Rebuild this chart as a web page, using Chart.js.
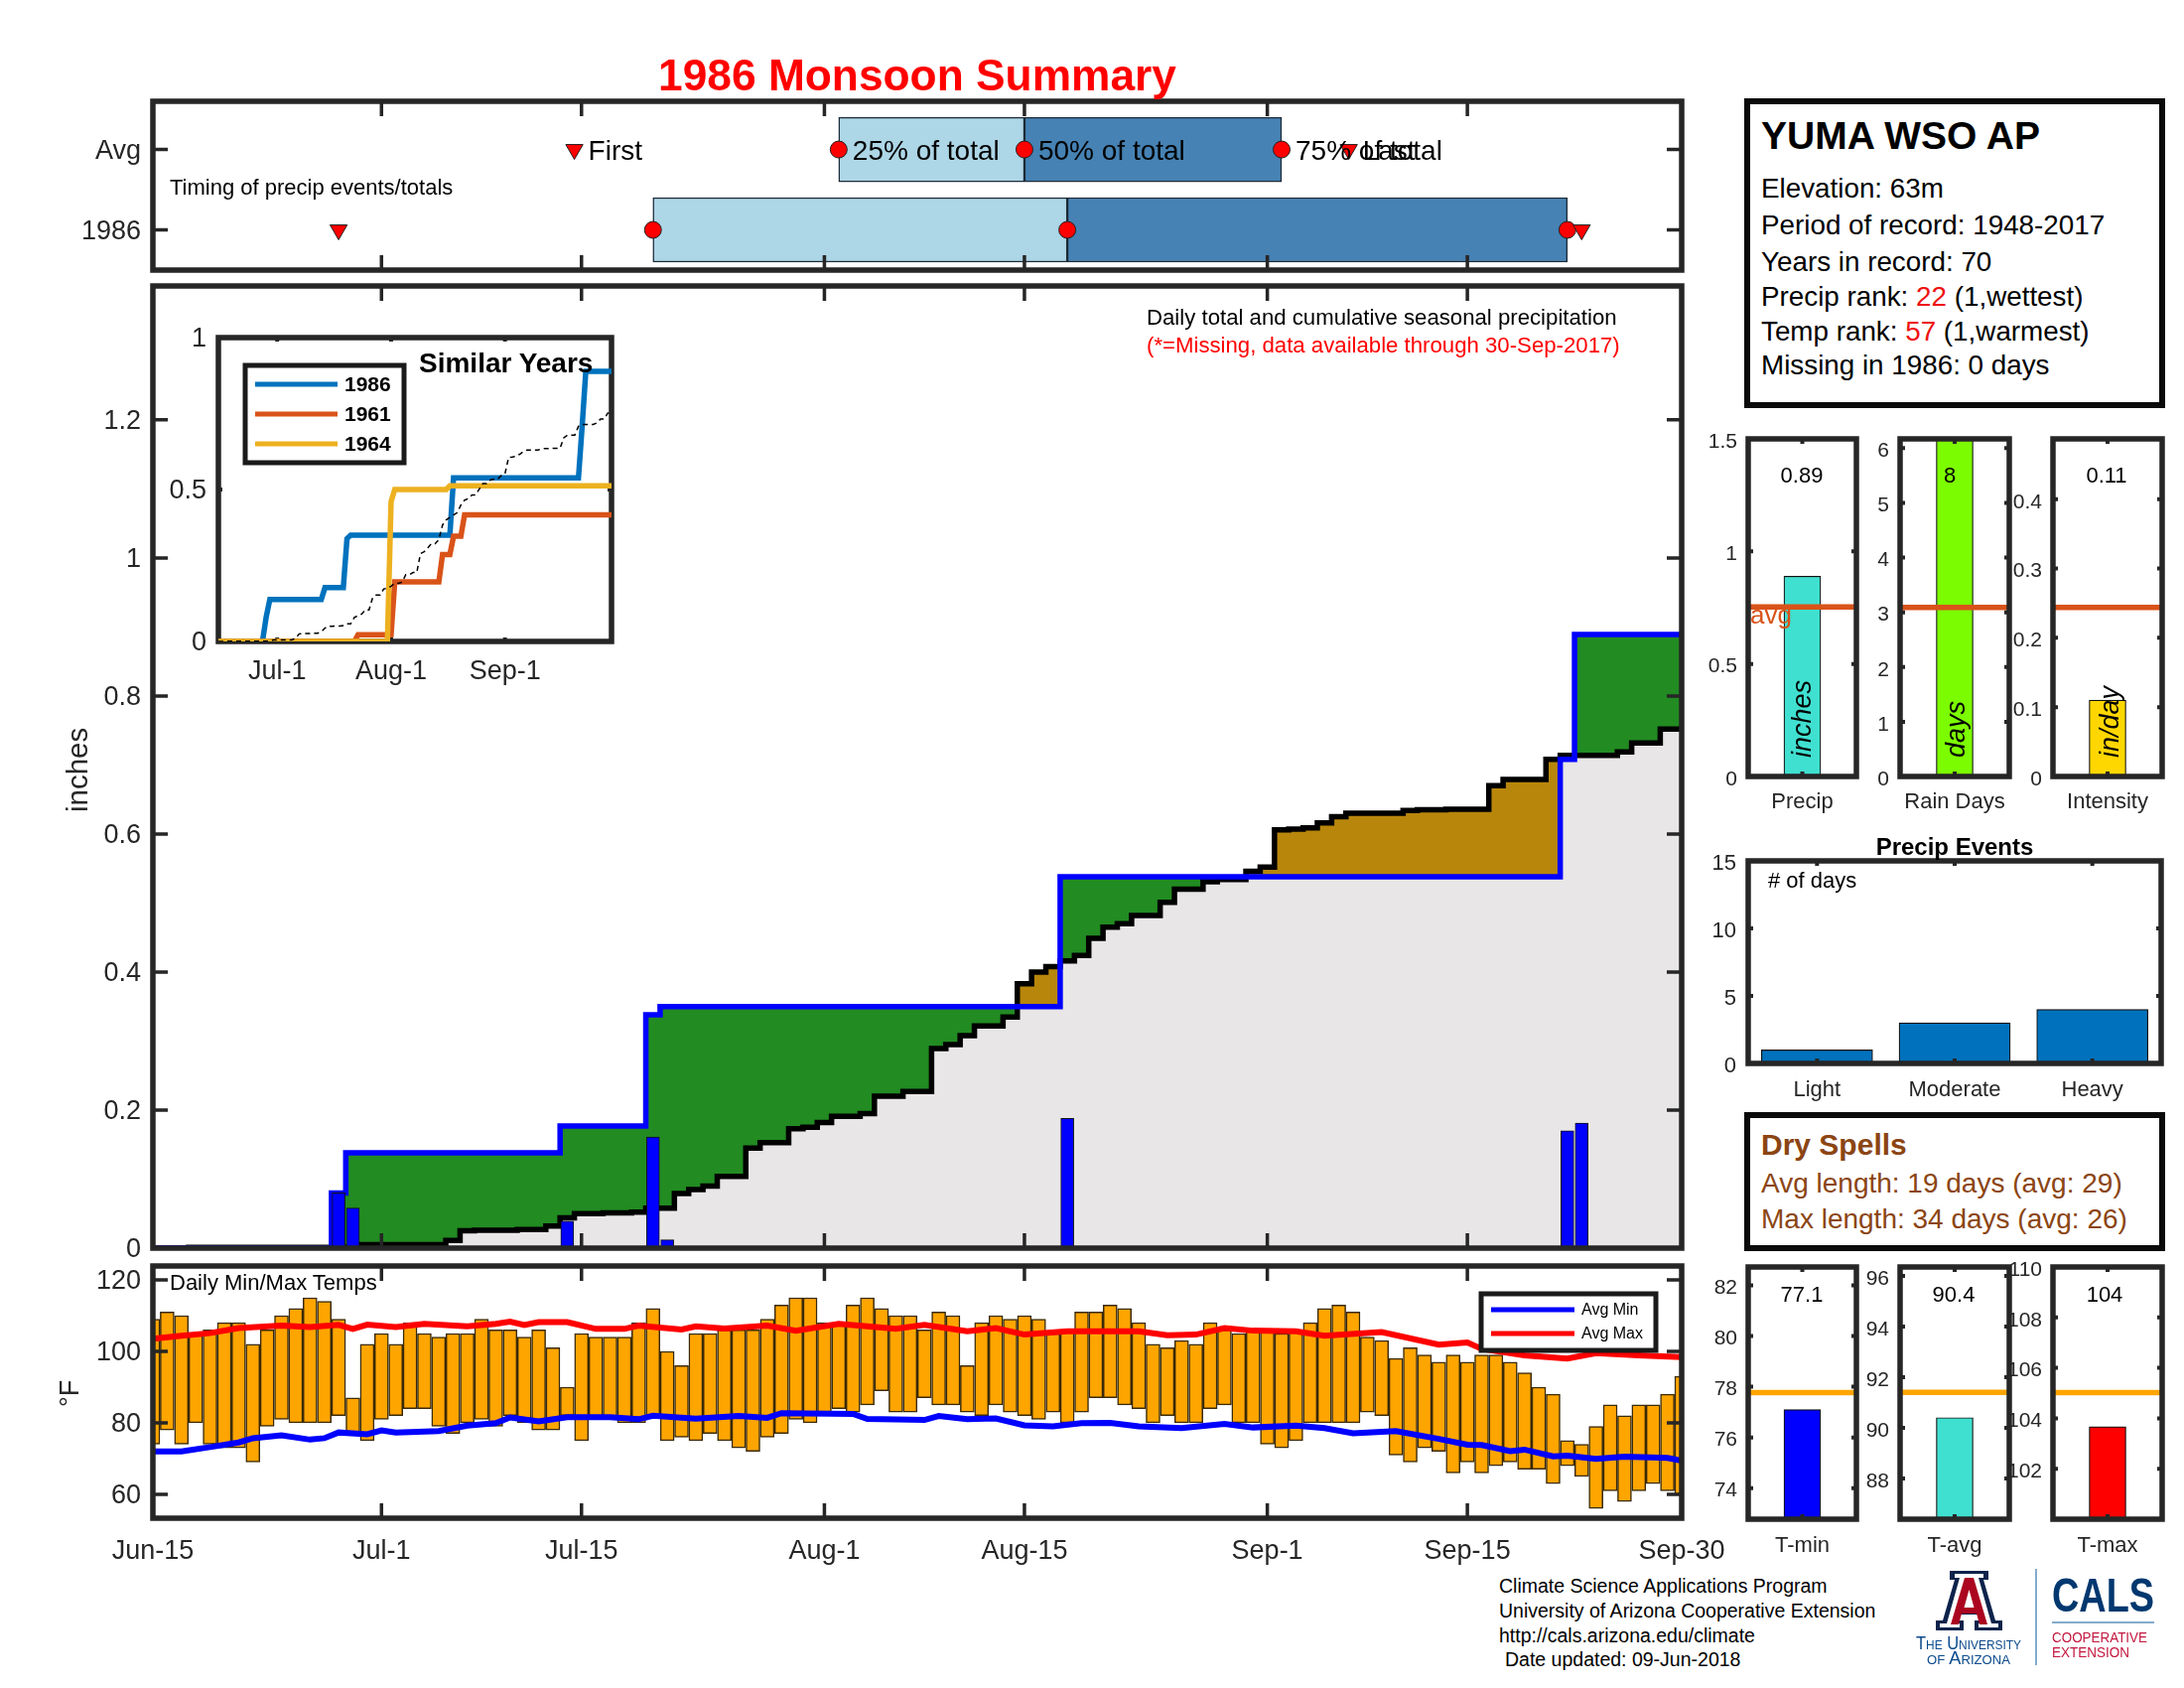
<!DOCTYPE html>
<html>
<head>
<meta charset="utf-8">
<title>1986 Monsoon Summary</title>
<script src="https://cdn.jsdelivr.net/npm/chart.js@4"></script>
<style>
html, body { margin: 0; padding: 0; background: #fff; overflow: hidden; }
body { width: 2200px; height: 1700px; position: relative; font-family: "Liberation Sans", Arial, sans-serif; }
canvas { position: absolute; }
.txt { position: absolute; white-space: pre; }
.box { position: absolute; box-sizing: border-box; border: 6px solid #0a0a0a; background: #fff; }
svg { position: absolute; left: 0; top: 0; }
</style>
</head>
<body>
<script>
// --- date axis, days counted from Jun-15 ---
const dateTicks = [0, 16, 30, 47, 61, 78, 92, 107];
const dateLabels = ['Jun-15', 'Jul-1', 'Jul-15', 'Aug-1', 'Aug-15', 'Sep-1', 'Sep-15', 'Sep-30'];

// --- daily precip ---
const rainDays = [13, 14, 29, 35, 36, 64, 99, 100];
const rainAmounts = [0.08, 0.058, 0.039, 0.161, 0.012, 0.188, 0.17, 0.181];

const obsCum = [
  0, 0, 0, 0, 0, 0, 0, 0, 0, 0, 0, 0, 0, 0.08, 0.138, 0.138, 0.138, 0.138,
  0.138, 0.138, 0.138, 0.138, 0.138, 0.138, 0.138, 0.138, 0.138, 0.138, 0.138, 0.177, 0.177, 0.177, 0.177, 0.177,
  0.177, 0.338, 0.35, 0.35, 0.35, 0.35, 0.35, 0.35, 0.35, 0.35, 0.35, 0.35, 0.35, 0.35, 0.35, 0.35, 0.35, 0.35,
  0.35, 0.35, 0.35, 0.35, 0.35, 0.35, 0.35, 0.35, 0.35, 0.35, 0.35, 0.35, 0.538, 0.538, 0.538, 0.538, 0.538, 0.538, 0.538, 0.538,
  0.538, 0.538, 0.538, 0.538, 0.538, 0.538, 0.538, 0.538, 0.538, 0.538, 0.538, 0.538, 0.538, 0.538, 0.538, 0.538, 0.538, 0.538,
  0.538, 0.538, 0.538, 0.538, 0.538, 0.538, 0.538, 0.538, 0.538, 0.708, 0.889, 0.889, 0.889, 0.889, 0.889, 0.889, 0.889, 0.889
];
const avgCum = [
  0, 0, 0, 0.001, 0.001, 0.001, 0.001, 0.001, 0.001, 0.001, 0.001, 0.001, 0.001, 0.001, 0.001, 0.005, 0.005, 0.005,
  0.005, 0.005, 0.005, 0.011, 0.025, 0.026, 0.026, 0.026, 0.027, 0.027, 0.032, 0.044, 0.05, 0.05, 0.051, 0.051,
  0.052, 0.058, 0.058, 0.079, 0.085, 0.09, 0.104, 0.104, 0.145, 0.153, 0.153, 0.173, 0.175, 0.182, 0.191, 0.191, 0.195, 0.22,
  0.22, 0.227, 0.227, 0.289, 0.295, 0.308, 0.322, 0.322, 0.335, 0.383, 0.4, 0.408, 0.416, 0.424, 0.449, 0.465, 0.47, 0.482, 0.482, 0.501,
  0.52, 0.52, 0.531, 0.534, 0.534, 0.546, 0.552, 0.606, 0.607, 0.609, 0.616, 0.625, 0.63, 0.63, 0.63, 0.63, 0.634, 0.635,
  0.635, 0.636, 0.636, 0.636, 0.67, 0.679, 0.679, 0.679, 0.708, 0.714, 0.714, 0.714, 0.714, 0.719, 0.732, 0.732, 0.752, 0.752
];

// --- similar years inset ---
const days1961 = [0, 37, 38, 47, 48, 60, 61, 63, 64, 66, 67, 107];
const vals1961 = [0, 0, 0.022, 0.022, 0.196, 0.196, 0.286, 0.286, 0.346, 0.346, 0.417, 0.417];
const days1964 = [0, 46, 47, 48, 62, 63, 107];
const vals1964 = [0, 0, 0.46, 0.5, 0.5, 0.512, 0.512];
const insetTicks = [16, 47, 78];
const insetLabels = ['Jul-1', 'Aug-1', 'Sep-1'];

// --- timing strip ---
const timingNames = ['First', '25% of total', '50% of total', '75% of total', 'Last'];
const timingAvg = [29.5, 48, 61, 79, 83.7];
const timing1986 = [13, 35, 64, 99, 100];

// --- daily temps ---
const tempHigh = [
  109, 111, 110, 105, 106, 108, 108, 102, 106, 110,
  112, 115, 114, 109, 87, 102, 105, 102, 108, 105,
  104, 105, 105, 109, 106, 106, 104, 106, 101, 90,
  105, 104, 104, 104, 108, 112, 100, 96, 105, 105,
  106, 106, 106, 109, 113, 115, 115, 108, 108, 113,
  115, 112, 110, 110, 106, 111, 110, 96, 108, 110,
  109, 110, 109, 105, 106, 111, 111, 113, 112, 108,
  102, 101, 103, 102, 108, 106, 105, 106, 106, 105,
  106, 108, 112, 113, 111, 104, 103, 98, 101, 99,
  97, 99, 97, 99, 99, 97, 94, 90, 88, 75,
  74, 79, 85, 82, 85, 85, 88, 93
];
const tempLow = [
  74, 78, 74, 80, 74, 73, 73, 69, 79, 81,
  80, 80, 80, 82, 77, 75, 81, 82, 84, 84,
  79, 77, 80, 81, 79, 82, 80, 78, 78, 82,
  75, 81, 81, 80, 80, 82, 75, 76, 75, 77,
  75, 73, 72, 76, 77, 81, 80, 83, 84, 83,
  85, 89, 83, 83, 87, 85, 85, 83, 82, 85,
  83, 82, 81, 83, 80, 83, 87, 87, 85, 84,
  80, 82, 80, 80, 84, 85, 80, 80, 74, 73,
  75, 80, 80, 80, 80, 83, 82, 71, 69, 73,
  72, 66, 69, 66, 68, 69, 67, 67, 63, 68,
  65, 56, 61, 58, 61, 63, 61, 60
];
const avgMaxDays = [0, 2, 4, 6, 9, 11, 13, 14, 15, 17, 19, 22, 24, 25, 26, 27, 29, 31, 33, 34, 37, 38, 40, 43, 45, 48, 52, 54, 57, 59, 61, 64, 69, 71, 73, 75, 77, 80, 82, 86, 90, 92, 93, 96, 99, 101, 104, 107];
const avgMaxVals = [103.5, 104.4, 105.1, 106.5, 107.2, 106.8, 107.4, 106.3, 107.5, 106.8, 107.7, 107, 107.7, 108.3, 107.4, 108.2, 108.2, 106.3, 106.3, 107.2, 106.1, 107, 106.4, 107.2, 105.8, 107.7, 106.3, 107.4, 105.6, 106.5, 104.7, 105.6, 105.6, 104.5, 104.7, 106.5, 105.8, 105.6, 104.4, 105.4, 101.9, 102.5, 100.7, 98.9, 98, 99.5, 98.9, 98.4];
const avgMinDays = [0, 2, 4, 6, 7, 9, 11, 12, 13, 15, 16, 17, 20, 22, 24, 25, 27, 29, 32, 34, 35, 38, 41, 43, 44, 49, 50, 54, 55, 57, 59, 61, 63, 65, 67, 69, 72, 75, 77, 80, 82, 84, 87, 90, 92, 93, 95, 96, 98, 99, 101, 103, 106, 107];
const avgMinVals = [72, 72, 73.2, 74.5, 75.7, 76.5, 75.3, 75.7, 77.3, 76.8, 77.9, 77.3, 77.7, 79.2, 79.9, 81.5, 80.4, 81.6, 81.6, 81, 82, 81.2, 81.9, 81.4, 82.7, 82.5, 81.1, 80.8, 81.9, 81, 81.2, 79.3, 79, 79.9, 80, 79, 78.5, 79.7, 78.7, 79.2, 78.5, 77.1, 77.7, 75.5, 73.9, 73.8, 72.1, 72.5, 70.6, 70.8, 69.9, 70.5, 70.2, 69.4];

// --- summary bars: value, long-term average ---
const precipTotal = 0.89, precipAvg = 0.753;
const rainDayCount = 8, rainDayAvg = 3.09;
const intensity = 0.11, intensityAvg = 0.244;
const eventNames = ['Light', 'Moderate', 'Heavy'];
const eventCounts = [1, 3, 4];
const tMin = 77.1, tMinAvg = 77.77;
const tAvg = 90.4, tAvgAvg = 91.4;
const tMax = 103.67, tMaxAvg = 105.02;

const INK = '#262626';
const FONT = '"Liberation Sans", Arial, sans-serif';

// ---- drawing helpers ----
function drawFrame(chart, o) {
  const { ctx, chartArea: a, scales: { x, y } } = chart;
  ctx.save();
  ctx.strokeStyle = INK;
  ctx.lineWidth = o.tickWidth;
  ctx.beginPath();
  x.ticks.forEach((t, i) => {
    const p = x.getPixelForTick(i);
    if (p <= a.left + 1 || p >= a.right - 1) return;
    ctx.moveTo(p, a.top); ctx.lineTo(p, a.top + o.tickLen);
    ctx.moveTo(p, a.bottom); ctx.lineTo(p, a.bottom - o.tickLen);
  });
  y.ticks.forEach((t, i) => {
    const p = y.getPixelForTick(i);
    if (p <= a.top + 1 || p >= a.bottom - 1) return;
    ctx.moveTo(a.left, p); ctx.lineTo(a.left + o.tickLen, p);
    ctx.moveTo(a.right, p); ctx.lineTo(a.right - o.tickLen, p);
  });
  ctx.stroke();
  ctx.lineWidth = o.width;
  ctx.strokeRect(a.left, a.top, a.right - a.left, a.bottom - a.top);
  ctx.restore();
}

const framePlugin = {
  id: 'frame',
  beforeDatasetsDraw(chart, args, o) { if (o.under) drawFrame(chart, o); },
  afterDatasetsDraw(chart, args, o) { if (!o.under) drawFrame(chart, o); }
};

// text tied to data values, and the small boxed legends
const notesPlugin = {
  id: 'notes',
  afterDraw(chart, args, o) {
    const { ctx, chartArea: a, scales: { x, y } } = chart;
    ctx.save();
    (o.items || []).forEach(n => {
      ctx.font = n.font;
      ctx.fillStyle = n.color || '#000';
      ctx.textBaseline = 'middle';
      ctx.fillText(n.text, x.getPixelForValue(n.x) + (n.dx || 0), y.getPixelForValue(n.y) + (n.dy || 0));
    });
    if (o.legend) {
      const l = o.legend;
      ctx.fillStyle = '#fff';
      ctx.fillRect(a.left + l.x, a.top + l.y, l.w, l.h);
      ctx.strokeStyle = '#1a1a1a';
      ctx.lineWidth = l.border;
      ctx.strokeRect(a.left + l.x, a.top + l.y, l.w, l.h);
      l.entries.forEach((e, i) => {
        const ds = chart.data.datasets[e];
        const yy = a.top + l.rowY[i];
        ctx.strokeStyle = ds.borderColor;
        ctx.lineWidth = l.lineWidth;
        ctx.beginPath();
        ctx.moveTo(a.left + l.x + l.pad, yy);
        ctx.lineTo(a.left + l.x + l.pad + l.lineLen, yy);
        ctx.stroke();
        ctx.font = l.font;
        ctx.fillStyle = '#000';
        ctx.textBaseline = 'middle';
        ctx.fillText(ds.label, a.left + l.x + l.pad + l.lineLen + 7, yy + 1);
      });
    }
    ctx.restore();
  }
};

function axis(min, max, tickVals, labels, size, padding, labelOffset) {
  return {
    type: 'linear', min, max, offset: false,
    grid: { display: false, drawTicks: false, offset: false },
    border: { display: false },
    ticks: {
      autoSkip: false, maxRotation: 0, minRotation: 0,
      display: size > 0,
      color: INK, padding, labelOffset: labelOffset || 0,
      font: { family: FONT, size: size || 10 },
      callback: (v, i) => labels ? labels[i] : String(v)
    },
    afterBuildTicks: s => { s.ticks = tickVals.map(v => ({ value: v })); }
  };
}

function noPadding(s) {
  s.paddingTop = 0; s.paddingBottom = 0; s.paddingLeft = 0; s.paddingRight = 0;
}

function makeChart(rect, m, xAxis, yAxis, datasets, frame, notes) {
  const cv = document.createElement('canvas');
  const w = rect.x1 - rect.x0 + m.l + m.r;
  const h = rect.y1 - rect.y0 + m.t + m.b;
  cv.width = w; cv.height = h;
  cv.style.left = (rect.x0 - m.l) + 'px';
  cv.style.top = (rect.y0 - m.t) + 'px';
  cv.style.width = w + 'px';
  cv.style.height = h + 'px';
  document.body.appendChild(cv);
  xAxis.afterFit = s => { s.height = m.b; noPadding(s); };
  yAxis.afterFit = s => { s.width = m.l; noPadding(s); };
  return new Chart(cv.getContext('2d'), {
    type: 'bar',
    data: { datasets },
    options: {
      responsive: false, animation: false, devicePixelRatio: 1, events: [],
      layout: { padding: { top: m.t, right: m.r, left: 0, bottom: 0 } },
      scales: { x: xAxis, y: yAxis },
      elements: { point: { radius: 0 } },
      plugins: {
        legend: { display: false }, tooltip: { enabled: false }, title: { display: false },
        frame, notes: notes || {}
      }
    },
    plugins: [framePlugin, notesPlugin]
  });
}

function put(text, x, baseline, size, o) {
  o = o || {};
  const d = document.createElement('div');
  d.className = 'txt';
  if (o.html) d.innerHTML = text; else d.textContent = text;
  d.style.left = x + 'px';
  d.style.top = (baseline - 0.8465 * size) + 'px';
  d.style.fontSize = size + 'px';
  d.style.lineHeight = size + 'px';
  d.style.color = o.color || '#000';
  if (o.bold) d.style.fontWeight = 'bold';
  if (o.center) d.style.transform = 'translateX(-50%)';
  document.body.appendChild(d);
}

function putUp(text, left, bottom, size, italic, color) {
  const d = document.createElement('div');
  d.className = 'txt';
  d.textContent = text;
  d.style.left = left + 'px';
  d.style.top = bottom + 'px';
  d.style.fontSize = size + 'px';
  d.style.lineHeight = size + 'px';
  d.style.color = color || '#000';
  if (italic) d.style.fontStyle = 'italic';
  d.style.transformOrigin = '0 0';
  d.style.transform = 'rotate(-90deg)';
  document.body.appendChild(d);
}

function pairs(xs, ys) { return xs.map((v, i) => ({ x: v, y: ys[i] })); }
function byDay(ys) { return ys.map((v, i) => ({ x: i, y: v })); }

// ---- timing strip ----
function timingBars(from, to, row, color) {
  return { type: 'bar', indexAxis: 'y', grouped: false, data: [{ x: [from, to], y: row }], backgroundColor: color, borderColor: '#1c2b38', borderWidth: 1.5, borderSkipped: false, barThickness: 65 };
}
function timingMarks(day, row, style) {
  return {
    type: 'scatter', data: [{ x: day, y: row }], showLine: false, backgroundColor: '#ff0000', borderColor: '#222',
    pointBackgroundColor: '#ff0000', pointBorderColor: '#222', pointBorderWidth: 1,
    pointRadius: style === 'circle' ? 8.5 : 10, pointStyle: style, pointRotation: style === 'circle' ? 0 : 180
  };
}
const timingSets = [];
[0, 4].forEach(i => {
  timingSets.push(timingMarks(timingAvg[i], 2, 'triangle'));
  timingSets.push(timingMarks(timing1986[i], 1, 'triangle'));
});
[1, 2, 3].forEach(i => {
  timingSets.push(timingMarks(timingAvg[i], 2, 'circle'));
  timingSets.push(timingMarks(timing1986[i], 1, 'circle'));
});
timingSets.push(timingBars(timingAvg[1], timingAvg[2], 2, '#ADD6E6'));
timingSets.push(timingBars(timingAvg[2], timingAvg[3], 2, '#4682B4'));
timingSets.push(timingBars(timing1986[1], timing1986[2], 1, '#ADD6E6'));
timingSets.push(timingBars(timing1986[2], timing1986[3], 1, '#4682B4'));

makeChart({ x0: 154, x1: 1694, y0: 102, y1: 272 }, { l: 154, r: 60, t: 20, b: 16 },
  axis(0, 107, dateTicks, null, 0, 0),
  axis(0.5, 2.6, [1, 2], ['1986', 'Avg'], 27, 12, 2),
  timingSets,
  { width: 5.5, tickLen: 15, tickWidth: 3.5 },
  { items: timingNames.map((t, i) => ({ x: timingAvg[i], y: 2, dx: 14, dy: 3, text: t, font: '28px ' + FONT })) }
);

// ---- main precip chart ----
makeChart({ x0: 154, x1: 1694, y0: 288, y1: 1257 }, { l: 154, r: 60, t: 8, b: 16 },
  axis(0, 107, dateTicks, null, 0, 0),
  axis(0, 1.394, [0, 0.2, 0.4, 0.6, 0.8, 1, 1.2], null, 27, 12, 2),
  [
    { type: 'bar', label: 'Daily', data: pairs(rainDays, rainAmounts), backgroundColor: '#0000ff', borderColor: '#111', borderWidth: 1, barThickness: 13, borderSkipped: false },
    { type: 'line', label: '1986', data: byDay(obsCum), stepped: 'middle', borderColor: '#0000ff', borderWidth: 5.5, fill: false, borderJoinStyle: 'miter' },
    { type: 'line', label: 'Avg', data: byDay(avgCum), stepped: 'middle', borderColor: '#000', borderWidth: 5.5, fill: false, borderJoinStyle: 'miter' },
    { type: 'line', label: 'diff', data: byDay(obsCum), stepped: 'middle', borderWidth: 0, borderColor: 'rgba(0,0,0,0)', fill: { target: 4, above: '#228B22', below: '#B8860B' } },
    { type: 'line', label: 'below', data: byDay(avgCum), stepped: 'middle', borderWidth: 0, borderColor: 'rgba(0,0,0,0)', backgroundColor: '#E8E6E6', fill: 'origin' }
  ],
  { width: 5.5, tickLen: 15, tickWidth: 3.5 }
);

// ---- similar years inset ----
makeChart({ x0: 220, x1: 616, y0: 340, y1: 646 }, { l: 60, r: 10, t: 14, b: 50 },
  axis(0, 107, insetTicks, insetLabels, 27, 14),
  axis(0, 1, [0, 0.5, 1], null, 27, 12, 2),
  [
    { type: 'line', label: 'Avg', data: byDay(avgCum), borderColor: '#000', borderWidth: 1.5, borderDash: [5, 4], fill: false },
    { type: 'line', label: '1964', data: pairs(days1964, vals1964), borderColor: '#EDB120', borderWidth: 5.5, fill: false },
    { type: 'line', label: '1961', data: pairs(days1961, vals1961), borderColor: '#D95319', borderWidth: 5.5, fill: false },
    { type: 'line', label: '1986', data: byDay(obsCum), borderColor: '#0072BD', borderWidth: 5.5, fill: false }
  ],
  { width: 5.5, tickLen: 4, tickWidth: 4, under: true },
  { legend: { x: 27, y: 28, w: 160, h: 98, border: 5, pad: 10, lineLen: 83, lineWidth: 5, font: 'bold 21px ' + FONT, entries: [3, 2, 1], rowY: [47, 77, 107] } }
);

// ---- daily temps ----
makeChart({ x0: 154, x1: 1694, y0: 1275, y1: 1529 }, { l: 154, r: 60, t: 6, b: 50 },
  axis(0, 107, dateTicks, dateLabels, 27, 17),
  axis(53.3, 123.9, [60, 80, 100, 120], null, 27, 12, 2),
  [
    { type: 'line', label: 'Avg Min', data: pairs(avgMinDays, avgMinVals), borderColor: '#0000ff', borderWidth: 6, fill: false },
    { type: 'line', label: 'Avg Max', data: pairs(avgMaxDays, avgMaxVals), borderColor: '#ff0000', borderWidth: 6, fill: false },
    { type: 'bar', label: 'Daily', data: tempHigh.map((v, i) => ({ x: i, y: [tempLow[i], v] })), backgroundColor: '#FFA500', borderColor: '#3a2a08', borderWidth: 1.5, borderSkipped: false, barThickness: 14 }
  ],
  { width: 5.5, tickLen: 15, tickWidth: 3.5 },
  { legend: { x: 1338, y: 28, w: 176, h: 57, border: 5, pad: 10, lineLen: 84, lineWidth: 5, font: '16px ' + FONT, entries: [0, 1], rowY: [44, 68] } }
);

// ---- small summary panels ----
const smallFrame = { width: 5.5, tickLen: 5, tickWidth: 4 };
const smallMargin = { l: 60, r: 8, t: 10, b: 40 };
function summaryBar(rect, name, yMin, yMax, yTicks, value, avg, fillColor, avgColor, catPad) {
  makeChart(rect, smallMargin,
    axis(0, 2, [1], [name], 22, catPad),
    axis(yMin, yMax, yTicks, null, 21, 11, 3),
    [
      { type: 'line', data: [{ x: 0, y: avg }, { x: 2, y: avg }], borderColor: avgColor, borderWidth: 5.5, fill: false },
      { type: 'bar', data: [{ x: 1, y: value }], backgroundColor: fillColor, borderColor: '#111', borderWidth: 1.2, barThickness: 37, borderSkipped: false }
    ],
    smallFrame
  );
}
summaryBar({ x0: 1761, x1: 1870, y0: 442, y1: 782 }, 'Precip', 0, 1.5, [0, 0.5, 1, 1.5], precipTotal, precipAvg, '#40E0D0', '#D95319', 13);
summaryBar({ x0: 1914, x1: 2024, y0: 442, y1: 782 }, 'Rain Days', 0, 6.17, [0, 1, 2, 3, 4, 5, 6], rainDayCount, rainDayAvg, '#7CFC00', '#D95319', 13);
summaryBar({ x0: 2068, x1: 2178, y0: 442, y1: 782 }, 'Intensity', 0, 0.487, [0, 0.1, 0.2, 0.3, 0.4], intensity, intensityAvg, '#FFD700', '#D95319', 13);
summaryBar({ x0: 1761, x1: 1870, y0: 1276, y1: 1530 }, 'T-min', 72.77, 82.73, [74, 76, 78, 80, 82], tMin, tMinAvg, '#0000ff', '#FFA500', 14);
summaryBar({ x0: 1914, x1: 2024, y0: 1276, y1: 1530 }, 'T-avg', 86.39, 96.35, [88, 90, 92, 94, 96], tAvg, tAvgAvg, '#40E0D0', '#FFA500', 14);
summaryBar({ x0: 2068, x1: 2178, y0: 1276, y1: 1530 }, 'T-max', 100, 110, [102, 104, 106, 108, 110], tMax, tMaxAvg, '#ff0000', '#FFA500', 14);

// ---- precip events ----
makeChart({ x0: 1761, x1: 2177, y0: 867, y1: 1071 }, smallMargin,
  axis(0.5, 3.5, [1, 2, 3], eventNames, 22, 14),
  axis(0, 15, [0, 5, 10, 15], null, 22, 12, 3),
  [{ type: 'bar', data: eventCounts.map((v, i) => ({ x: i + 1, y: v })), backgroundColor: '#0072BD', borderColor: '#111', borderWidth: 1.2, barThickness: 112, borderSkipped: false }],
  smallFrame
);

// ---- page text ----
put('1986 Monsoon Summary', 924, 91, 44.3, { bold: true, color: '#ff0000', center: true });
put('Timing of precip events/totals', 171, 197, 22);
put('Daily total and cumulative seasonal precipitation', 1155, 328, 22.2);
put('(*=Missing, data available through 30-Sep-2017)', 1155, 356, 22.2, { color: '#ff0000' });
put('Similar Years', 422, 376, 28, { bold: true });
put('Daily Min/Max Temps', 171, 1300, 22);
putUp('inches', 63, 818, 29.5, false, INK);
putUp('°F', 57, 1417, 27, false, INK);

put(precipTotal.toFixed(2), 1815, 487, 22, { center: true });
put(String(rainDayCount), 1964, 487, 22, { center: true });
put(intensity.toFixed(2), 2122, 487, 22, { center: true });
put('avg', 1763, 628, 26, { color: '#D95319' });
putUp('inches', 1802, 763, 27, true);
putUp('days', 1957, 763, 27, true);
putUp('in/day', 2112, 763, 27, true);

put('Precip Events', 1969, 861, 24, { bold: true, center: true });
put('# of days', 1781, 895, 22);

put(tMin.toFixed(1), 1815, 1312, 22, { center: true });
put(tAvg.toFixed(1), 1968, 1312, 22, { center: true });
put(tMax.toFixed(0), 2120, 1312, 22, { center: true });

function addBox(x0, y0, x1, y1) {
  const b = document.createElement('div');
  b.className = 'box';
  b.style.left = x0 + 'px'; b.style.top = y0 + 'px';
  b.style.width = (x1 - x0) + 'px'; b.style.height = (y1 - y0) + 'px';
  document.body.appendChild(b);
}
addBox(1757, 99, 2181, 411);
put('YUMA WSO AP', 1774, 150, 39, { bold: true });
put('Elevation: 63m', 1774, 200, 27.8);
put('Period of record: 1948-2017', 1774, 237, 27.8);
put('Years in record: 70', 1774, 274, 27.8);
put('Precip rank: <span style="color:#e11">22</span> (1,wettest)', 1774, 309, 27.8, { html: true });
put('Temp rank: <span style="color:#e11">57</span> (1,warmest)', 1774, 344, 27.8, { html: true });
put('Missing in 1986: 0 days', 1774, 378, 27.8);

addBox(1757, 1120, 2181, 1260);
put('Dry Spells', 1774, 1163, 30, { bold: true, color: '#8B4513' });
put('Avg length: 19 days (avg: 29)', 1774, 1202, 28, { color: '#8B4513' });
put('Max length: 34 days (avg: 26)', 1774, 1238, 28, { color: '#8B4513' });

put('Climate Science Applications Program', 1510, 1605, 19.5);
put('University of Arizona Cooperative Extension', 1510, 1630, 19.5);
put('http://cals.arizona.edu/climate', 1510, 1655, 19.5);
put('Date updated: 09-Jun-2018', 1516, 1679, 19.5);

// logos
const NS = 'http://www.w3.org/2000/svg';
const logo = document.createElementNS(NS, 'svg');
logo.setAttribute('width', 2200);
logo.setAttribute('height', 1700);
logo.innerHTML = `
<g transform="translate(1950,1582)">
  <path fill="#0C234B" fill-rule="evenodd" d="M14 0H53V9H48L60 50H67V60H39V50H44L42 44H25L23 50H28V60H0V50H7L19 9H14Z"/>
  <path fill="#fff" d="M19 3H48V7H43L56 53H63V57H43V53H47L44 41H23L20 53H24V57H4V53H11L24 7H19Z"/>
  <path fill="#AB0520" fill-rule="evenodd" d="M29 7H38L52 54H44L41 43H26L23 54H15ZM33.5 19L28.5 37H38.5Z"/>
</g>
<text x="1983" y="1661" text-anchor="middle" font-family="Liberation Sans" style="font-variant:small-caps" font-size="18" fill="#0C4A8C" textLength="106" lengthAdjust="spacingAndGlyphs">The University</text>
<text x="1983" y="1676" text-anchor="middle" font-family="Liberation Sans" style="font-variant:small-caps" font-size="18" fill="#0C4A8C" textLength="84" lengthAdjust="spacingAndGlyphs">of Arizona</text>
<line x1="2051" y1="1580" x2="2051" y2="1677" stroke="#5b8fbd" stroke-width="1.5"/>
<text x="2067" y="1623" font-family="Liberation Sans" font-weight="bold" font-size="48" fill="#00386F" textLength="103" lengthAdjust="spacingAndGlyphs">CALS</text>
<line x1="2067" y1="1634" x2="2170" y2="1634" stroke="#5b8fbd" stroke-width="1.5"/>
<text x="2067" y="1654" font-family="Liberation Sans" font-size="15" fill="#C4173F" textLength="96" lengthAdjust="spacingAndGlyphs">COOPERATIVE</text>
<text x="2067" y="1669" font-family="Liberation Sans" font-size="15" fill="#C4173F" textLength="78" lengthAdjust="spacingAndGlyphs">EXTENSION</text>`;
document.body.appendChild(logo);
</script>
</body>
</html>
